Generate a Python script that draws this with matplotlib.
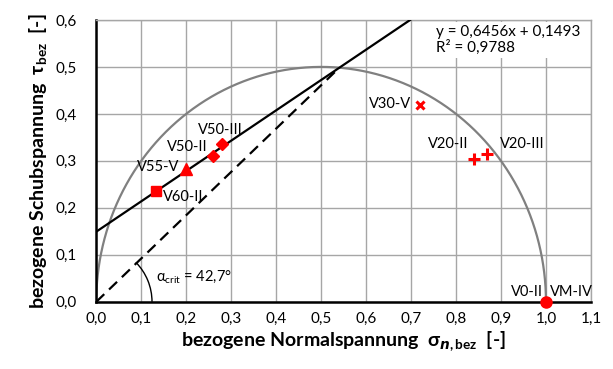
import numpy as np
import matplotlib.pyplot as plt
from matplotlib.patches import Arc
from matplotlib.ticker import FuncFormatter, MultipleLocator

plt.rcParams['font.family'] = ['Lato', 'DejaVu Sans']
plt.rcParams['mathtext.fontset'] = 'custom'
plt.rcParams['mathtext.rm'] = 'Lato'
plt.rcParams['mathtext.it'] = 'Lato:italic'
plt.rcParams['mathtext.bf'] = 'Lato:bold'

# Versuchsdaten (bezogene Spannungen)
labels = ['V60-II', 'V55-V', 'V50-II', 'V50-III', 'V30-V', 'V20-II', 'V20-III', 'V0-II']
sigma = [0.133, 0.20, 0.26, 0.28, 0.72, 0.84, 0.87, 1.0]
tau = [0.235, 0.283, 0.31, 0.335, 0.42, 0.305, 0.315, 0.0]
markers = ['s', '^', 'D', 'D', 'x', '+', '+', 'o']
msizes = [7, 8, 6, 6, 6, 8, 8, 8]

# Beschriftungspositionen
lab_text = ['V60-II', 'V55-V', 'V50-II', 'V50-III', 'V30-V', 'V20-II', 'V20-III', 'V0-II', 'VM-IV']
lab_x = [0.193, 0.138, 0.202, 0.276, 0.653, 0.782, 0.947, 0.958, 1.057]
lab_y = [0.223, 0.287, 0.33, 0.366, 0.422, 0.336, 0.336, 0.02, 0.02]

# lineare Regression
a, b = 0.6456, 0.1493
r2 = 0.9788

fig = plt.figure(figsize=(6.13, 3.69), dpi=100)
ax = fig.add_axes([0.157, 0.182, 0.807, 0.764])

# Mohrscher Halbkreis
phi = np.linspace(0, np.pi, 300)
ax.plot(0.5 + 0.5 * np.cos(phi), 0.5 * np.sin(phi), color='#808080', lw=1.6, zorder=2)

# Regressionsgerade
xl = np.array([0, (0.6 - b) / a])
ax.plot(xl, a * xl + b, color='black', lw=1.6, zorder=3)

# Schnittpunkt Gerade / Kreis
A = 1 + a ** 2
B = 2 * a * b - 1
C = b ** 2
xs = (-B + np.sqrt(B ** 2 - 4 * A * C)) / (2 * A)
ys = a * xs + b
ax.plot([0, xs], [0, ys], color='black', lw=1.6, ls=(0, (5, 3)), zorder=3)

alpha = np.degrees(np.arctan(ys / xs))
r = 0.124
ax.add_patch(Arc((0, 0), 2 * r, 2 * r * 450 / 467, theta1=0, theta2=alpha + 1,
                 color='black', lw=1.0, zorder=3))
ax.text(0.133, 0.054, 'α$_{\\mathrm{crit}}$ = 42,7°', fontsize=10.5,
        va='center', ha='left')

for x, y, m, s in zip(sigma, tau, markers, msizes):
    mew = 2.2 if m in ('x', '+') else 1
    ax.plot(x, y, marker=m, color='red', ms=s, mew=mew, ls='none', zorder=5, clip_on=False)

for t, x, y in zip(lab_text, lab_x, lab_y):
    ax.text(x, y, t, fontsize=10.5, ha='center', va='center', zorder=6)

ax.text(0.755, 0.59, 'y = 0,6456x + 0,1493\nR² = 0,9788', fontsize=11,
        ha='left', va='top', linespacing=1.1, zorder=6,
        bbox=dict(facecolor='white', edgecolor='none', pad=2))

ax.set_xlim(0, 1.1)
ax.set_ylim(0, 0.6)
ax.xaxis.set_major_locator(MultipleLocator(0.1))
ax.yaxis.set_major_locator(MultipleLocator(0.1))
fmt = FuncFormatter(lambda v, p: ('%.1f' % v).replace('.', ','))
ax.xaxis.set_major_formatter(fmt)
ax.yaxis.set_major_formatter(fmt)
ax.grid(True, color='#a6a6a6', lw=1.0, zorder=0)
ax.set_axisbelow(True)
ax.tick_params(axis='x', labelsize=11, length=0, pad=7)
ax.tick_params(axis='y', labelsize=11, length=0, pad=14)

for s in ['left', 'bottom']:
    ax.spines[s].set_linewidth(1.8)
    ax.spines[s].set_color('black')
for s in ['top', 'right']:
    ax.spines[s].set_linewidth(1.0)
    ax.spines[s].set_color('#a6a6a6')

ax.set_xlabel(r'bezogene Normalspannung  $\mathbf{\sigma}_{\mathbfit{n}\mathbf{,bez}}$  [-]',
              fontsize=14, fontweight='bold', labelpad=3)
ax.set_ylabel(r'bezogene Schubspannung  $\mathbf{\tau}_{\mathbf{bez}}$  [-]',
              fontsize=14, fontweight='bold', labelpad=5)

fig.savefig('out.png', dpi=100)
